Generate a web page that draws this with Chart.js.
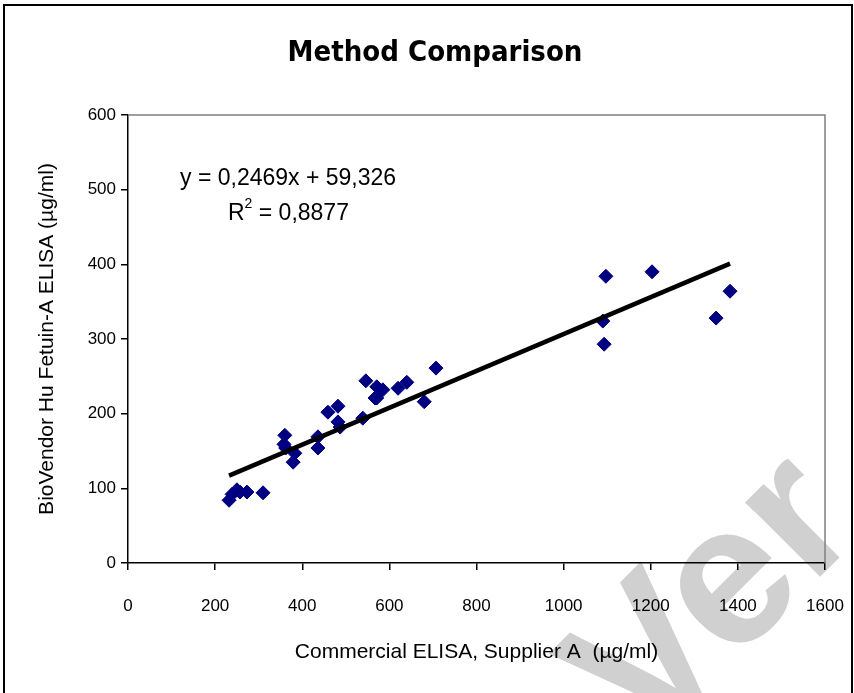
<!DOCTYPE html>
<html>
<head>
<meta charset="utf-8">
<script src="https://cdn.jsdelivr.net/npm/chart.js@4.4.1/dist/chart.umd.min.js"></script>
<style>
  html, body { margin: 0; padding: 0; background: #fff; }
  #wrap { width: 854px; height: 693px; }
</style>
</head>
<body>
<div id="wrap"><canvas id="chart" width="854" height="693"></canvas></div>
<script>
  // values (x = Supplier A, y = BioVendor)
  const supplierA = [232, 239, 250, 257, 273, 310, 358, 360, 362, 379, 383, 436, 436,
    459, 482, 482, 487, 539, 546, 567, 571, 571, 585, 620, 640, 680, 707,
    1090, 1093, 1097, 1203, 1350, 1382];
  const bioVendor = [84, 92, 98, 95, 95, 94, 159, 171, 154, 135, 147, 169, 154,
    202, 210, 189, 182, 194, 244, 221, 236, 221, 232, 234, 242, 216, 261,
    324, 293, 384, 390, 328, 364];

  // trend line ends
  const trendX = [232, 1382];
  const trendY = [117, 401];

  const xTicks = [0, 200, 400, 600, 800, 1000, 1200, 1400, 1600];
  const yTicks = [0, 100, 200, 300, 400, 500, 600];

  const titleText = 'Method Comparison';
  const equationText = 'y = 0,2469x + 59,326';
  const r2Value = '0,8877';

  const FONT = "'Liberation Sans', Arial, sans-serif";
  const COND = "'DejaVu Sans Condensed', 'Liberation Sans', Arial, sans-serif";

  const pagePlugin = {
    id: 'page',
    beforeDraw(chart) {
      const ctx = chart.ctx;
      ctx.save();
      ctx.fillStyle = '#fff';
      ctx.fillRect(0, 0, chart.width, chart.height);
      // watermark
      ctx.fillStyle = '#d0d0d0';
      ctx.font = 'bold 200px ' + FONT;
      ctx.translate(645, 752);
      ctx.rotate(-45 * Math.PI / 180);
      ctx.fillText('Ver', 0, 0);
      ctx.restore();

      ctx.save();
      ctx.strokeStyle = '#000';
      ctx.lineWidth = 2;
      ctx.strokeRect(4, 5, 848, 700);
      ctx.restore();
    },
    beforeDatasetsDraw(chart) {
      const {ctx, chartArea: a} = chart;
      ctx.save();
      ctx.strokeStyle = '#808080';
      ctx.lineWidth = 1.5;
      ctx.beginPath();
      ctx.moveTo(a.left, a.top);
      ctx.lineTo(a.right, a.top);
      ctx.lineTo(a.right, a.bottom);
      ctx.stroke();
      ctx.restore();
    },
    afterDraw(chart) {
      const ctx = chart.ctx;
      ctx.save();
      ctx.fillStyle = '#000';
      // title
      ctx.textAlign = 'center';
      ctx.textBaseline = 'middle';
      ctx.font = 'bold 29px ' + COND;
      ctx.fillText(titleText, 435, 53);
      // regression text
      ctx.textAlign = 'left';
      ctx.textBaseline = 'alphabetic';
      ctx.font = '23px ' + FONT;
      ctx.fillText(equationText, 180, 185);
      ctx.fillText('R', 228, 220);
      const rw = ctx.measureText('R').width;
      ctx.font = '14px ' + FONT;
      ctx.fillText('2', 228 + rw, 208);
      const sw = ctx.measureText('2').width;
      ctx.font = '23px ' + FONT;
      ctx.fillText(' = ' + r2Value, 228 + rw + sw, 220);
      ctx.restore();
    }
  };

  new Chart(document.getElementById('chart'), {
    type: 'scatter',
    data: {
      datasets: [
        {
          label: 'Samples',
          data: supplierA.map((x, i) => ({x: x, y: bioVendor[i]})),
          pointStyle: 'rectRot',
          pointRadius: 7,
          backgroundColor: '#000080',
          borderColor: '#000080',
          borderWidth: 1,
          order: 2
        },
        {
          label: 'Linear',
          type: 'line',
          data: trendX.map((x, i) => ({x: x, y: trendY[i]})),
          borderColor: '#000',
          borderWidth: 4.5,
          pointRadius: 0,
          fill: false,
          order: 1
        }
      ]
    },
    options: {
      responsive: false,
      animation: false,
      devicePixelRatio: 1,
      layout: { padding: { top: 115, left: 0, right: 29, bottom: 0 } },
      plugins: {
        legend: { display: false },
        tooltip: { enabled: false },
        title: { display: false }
      },
      scales: {
        x: {
          type: 'linear',
          min: 0, max: 1600,
          afterBuildTicks: s => { s.ticks = xTicks.map(v => ({value: v})); },
          afterFit: s => { s.height = 130; s.paddingLeft = 0; s.paddingRight = 0; },
          border: { color: '#000', width: 1.5 },
          grid: { drawOnChartArea: false, drawTicks: true, tickLength: 7, color: '#000', lineWidth: 1.5 },
          ticks: { color: '#000', padding: 26, maxRotation: 0, font: { family: FONT, size: 17 },
            callback: v => String(v) },
          title: {
            display: true,
            text: 'Commercial ELISA, Supplier A  (µg/ml)',
            color: '#000',
            font: { family: FONT, size: 21 },
            padding: { top: 0, bottom: 28 }
          }
        },
        y: {
          type: 'linear',
          min: 0, max: 600,
          afterBuildTicks: s => { s.ticks = yTicks.map(v => ({value: v})); },
          afterFit: s => { s.width = 128; s.paddingTop = 0; s.paddingBottom = 0; },
          border: { color: '#000', width: 1.5 },
          grid: { drawOnChartArea: false, drawTicks: true, tickLength: 7, color: '#000', lineWidth: 1.5 },
          ticks: { color: '#000', padding: 5, font: { family: FONT, size: 17 },
            callback: v => String(v) },
          title: {
            display: true,
            text: 'BioVendor Hu Fetuin-A ELISA (µg/ml)',
            color: '#000',
            font: { family: FONT, size: 21 },
            padding: { top: 35, bottom: 0 }
          }
        }
      }
    },
    plugins: [pagePlugin]
  });
</script>
</body>
</html>
